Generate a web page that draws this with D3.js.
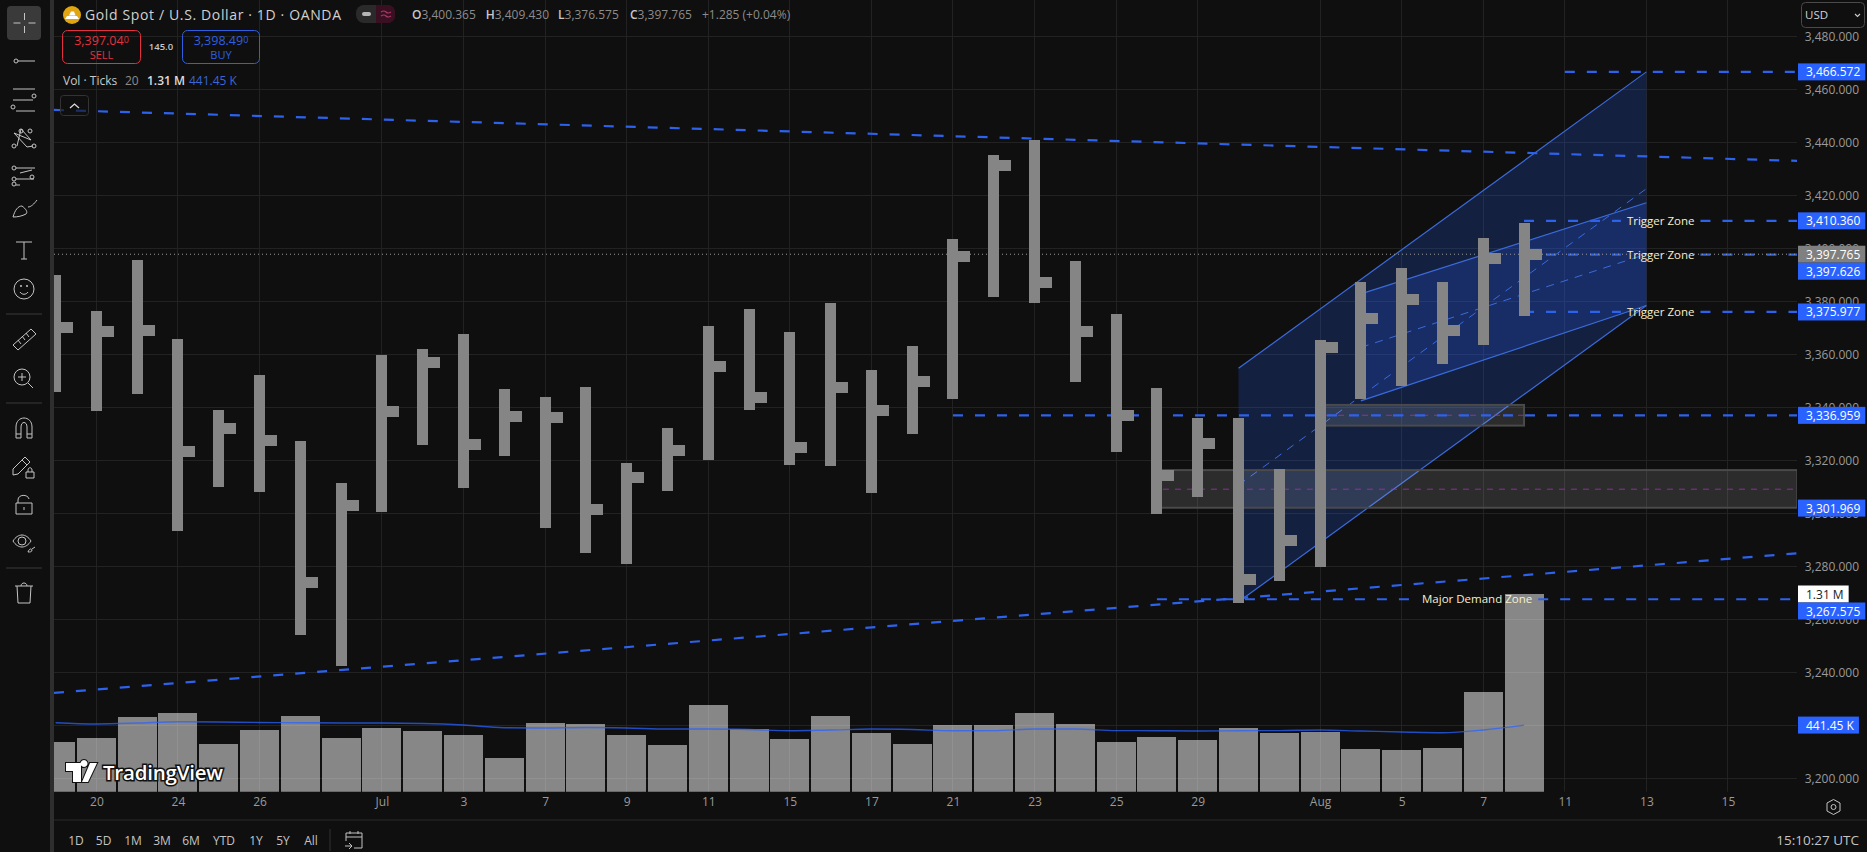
<!DOCTYPE html>
<html><head><meta charset="utf-8">
<script src="https://cdn.jsdelivr.net/npm/d3@7/dist/d3.min.js"></script>
<style>
html,body{margin:0;padding:0;background:#0f0f0f;overflow:hidden}
svg{display:block}
text{font-family:"Open Sans","Noto Sans",sans-serif}
</style></head><body>
<svg id="c" width="1867" height="852"></svg>
<script>
// ---------- data ----------
const highs=[3389.9,3376.4,3395.6,3365.8,3339.0,3352.2,3327.3,3311.4,3359.7,3362.0,3367.7,3346.9,3343.9,3347.7,3319.0,3332.2,3370.7,3377.1,3368.4,3379.4,3354.1,3363.1,3403.5,3435.2,3441.0,3395.2,3375.2,3347.3,3335.9,3335.9,3316.7,3365.4,3387.3,3392.6,3387.3,3403.9,3409.43];
const lows=[3345.8,3338.6,3345.0,3293.3,3309.9,3308.1,3254.1,3242.4,3300.5,3325.8,3309.6,3321.6,3294.5,3285.0,3280.9,3308.4,3320.1,3339.0,3318.2,3317.9,3307.7,3330.0,3343.1,3381.6,3379.4,3349.6,3323.1,3299.7,3306.1,3266.1,3274.4,3279.7,3343.1,3348.0,3356.3,3363.5,3374.4];
const closes=[3370.2,3368.7,3369.1,3323.4,3332.1,3327.5,3274.0,3303.0,3338.5,3357.0,3326.0,3336.6,3336.2,3301.5,3313.6,3323.8,3355.5,3343.8,3324.9,3347.5,3338.9,3349.8,3397.0,3431.3,3387.2,3368.7,3336.9,3314.3,3326.4,3275.1,3289.8,3362.6,3373.6,3380.7,3369.0,3396.2,3397.765];
const volumes=[329,356,495,522,316,409,502,356,422,402,376,223,455,449,376,309,575,415,349,502,389,316,442,442,522,449,329,362,343,422,389,396,283,276,290,661,1310];
const volumeMA=[457,449,455,464,462,459,457,455,455,452,442,424,422,425,422,415,415,412,404,409,415,412,404,405,415,415,405,404,402,404,405,409,402,396,391,409,441.45];
const priceTicks=[3200,3220,3240,3260,3280,3300,3320,3340,3360,3380,3400,3420,3440,3460,3480];
const timeTickIndex=[1,3,5,8,10,12,14,16,18,20,22,24,26,28,31,33,35,37,39,41];
const timeTickLabels=["20","24","26","Jul","3","7","9","11","15","17","21","23","25","29","Aug","5","7","11","13","15"];
const rangeButtons=["1D","5D","1M","3M","6M","YTD","1Y","5Y","All"];
const lastClose=3397.765;
// drawings, in [bar index, price]
const trendLines=[[[-0.04,3452.2],[42.7,3433.0]],[[-0.04,3232.2],[42.7,3284.9]]];
const levels=[
 {p:3466.572,from:37,text:null},
 {p:3410.360,from:36,text:"Trigger Zone"},
 {p:3397.626,from:36,text:"Trigger Zone"},
 {p:3375.977,from:36,text:"Trigger Zone"},
 {p:3336.959,from:22,text:null},
 {p:3267.575,from:27,text:"Major Demand Zone"}];
const levelEnd=42.7, trigMid=39.35, demandMid=34.85;
const outerChannel=[[29,3354.7],[39,3466.572],[39,3378.4],[29,3266.6]];
const innerChannel=[[32,3382.8],[39,3417.2],[39,3378.4],[32,3342.4]];
const zones=[{i0:31,i1:36,top:3340.9,bot:3333.1,mid:3337.0},{i0:27,i1:42.7,top:3316.3,bot:3302.1,mid:3309.1}];
const blueLabels=[3466.572,3410.360,3397.626,3375.977,3336.959,3301.969,3267.575];

// ---------- scales ----------
const svg=d3.select("#c");
const plotL=54, plotR=1797, paneB=791.7;
const x=d3.scaleLinear().domain([0,39]).range([55.6,1646.4]);
const y=d3.scaleLinear().domain([3200,3480]).range([778.3,36.3]);
const yv=d3.scaleLinear().domain([0,1310]).range([paneB,594]);
const blue="#2962ff", fg="#d4d4d4", dim="#9a9a9a", bar="#858585";
svg.append("defs").append("clipPath").attr("id","plot").append("rect").attr("x",plotL).attr("y",0).attr("width",plotR-plotL).attr("height",paneB);
const plot=svg.append("g").attr("clip-path","url(#plot)");
const fmt=d3.format(",.3f");

// grid
plot.append("g").selectAll("line").data(priceTicks).join("line").attr("x1",plotL).attr("x2",plotR).attr("y1",d=>y(d)).attr("y2",d=>y(d)).attr("stroke","#222222").attr("shape-rendering","crispEdges");
plot.append("g").selectAll("line").data(timeTickIndex).join("line").attr("x1",d=>x(d)).attr("x2",d=>x(d)).attr("y1",0).attr("y2",paneB).attr("stroke","#222222").attr("shape-rendering","crispEdges");

// volume
plot.append("g").selectAll("rect").data(volumes).join("rect").attr("x",(d,i)=>x(i)-19.5).attr("width",39).attr("y",d=>yv(d)).attr("height",d=>paneB-yv(d)).attr("fill","rgba(255,255,255,.5)").attr("shape-rendering","crispEdges");
plot.append("path").attr("d",d3.line().x((d,i)=>x(i)).y(d=>yv(d)).curve(d3.curveMonotoneX)(volumeMA)).attr("fill","none").attr("stroke",blue).attr("stroke-opacity",.75).attr("stroke-width",1.4);

// channels
const pt=d=>[x(d[0]),y(d[1])];
const mid=(a,b)=>[(a[0]+b[0])/2,(a[1]+b[1])/2];
[outerChannel,innerChannel].forEach(c=>{
  plot.append("path").attr("d",d3.line().x(d=>x(d[0])).y(d=>y(d[1]))(c)+"Z").attr("fill","rgba(41,98,255,.2)");
  [[c[0],c[1]],[c[3],c[2]]].forEach(s=>plot.append("path").attr("d",d3.line().x(d=>x(d[0])).y(d=>y(d[1]))(s)).attr("stroke","#3b6bdb").attr("stroke-width",1.2).attr("fill","none"));
  plot.append("path").attr("d",d3.line().x(d=>x(d[0])).y(d=>y(d[1]))([mid(c[0],c[3]),mid(c[1],c[2])])).attr("stroke","#3b6bdb").attr("stroke-width",1).attr("stroke-dasharray","8 7").attr("fill","none");
});

// zones
zones.forEach(z=>{
  plot.append("rect").attr("x",x(z.i0)).attr("width",x(z.i1)-x(z.i0)).attr("y",y(z.top)).attr("height",y(z.bot)-y(z.top)).attr("fill","rgba(255,255,255,.12)").attr("stroke","#4a4a4a").attr("stroke-width",2);
  plot.append("line").attr("x1",x(z.i0)+6).attr("x2",x(z.i1)).attr("y1",y(z.mid)).attr("y2",y(z.mid)).attr("stroke","#a035b0").attr("stroke-opacity",.8).attr("stroke-dasharray","6 6");
});

// trend lines
const dashLine=(g,x1,y1,x2,y2)=>g.append("line").attr("x1",x1).attr("y1",y1).attr("x2",x2).attr("y2",y2).attr("stroke","#2d62ec").attr("stroke-width",2.2).attr("stroke-dasharray","10 12");
trendLines.forEach(t=>{const a=pt(t[0]),b=pt(t[1]);dashLine(plot,a[0],a[1],b[0],b[1]);});

// level lines, broken around their captions
levels.forEach(l=>{
  const yy=y(l.p), x0=x(l.from), x1=x(levelEnd);
  if(!l.text){dashLine(plot,x0,yy,x1,yy);return;}
  const cx=x(l.text.startsWith("Major")?demandMid:trigMid);
  const t=plot.append("text").attr("x",cx).attr("y",yy+4).attr("text-anchor","middle").attr("font-size",11.5).attr("font-weight",500).attr("fill","#f8f0cc").text(l.text);
  const w=t.node().getComputedTextLength()/2+6;
  dashLine(plot,x0,yy,cx-w,yy);dashLine(plot,cx+w,yy,x1,yy);
});

// last price dotted
plot.append("line").attr("x1",plotL).attr("x2",plotR).attr("y1",y(lastClose)).attr("y2",y(lastClose)).attr("stroke","#9a9a9a").attr("stroke-dasharray","1 3");

// OHLC bars
const bars=plot.append("g").attr("fill",bar).attr("shape-rendering","crispEdges");
bars.selectAll("rect.w").data(highs).join("rect").attr("class","w").attr("x",(d,i)=>x(i)-5.5).attr("width",11).attr("y",d=>y(d)).attr("height",(d,i)=>y(lows[i])-y(d));
bars.selectAll("rect.c").data(closes).join("rect").attr("class","c").attr("x",(d,i)=>x(i)+5.5).attr("width",12).attr("y",d=>y(d)-5.5).attr("height",11);

// axes
const ax=svg.append("g").attr("transform",`translate(1859,0)`).call(d3.axisLeft(y).tickValues(priceTicks).tickSize(0).tickPadding(0).tickFormat(fmt));
ax.select(".domain").remove();
ax.selectAll("text").attr("fill",dim).attr("font-size",12).style("font-family",'"Open Sans"');
const at=svg.append("g").attr("transform",`translate(0,${paneB+6})`).call(d3.axisBottom(x).tickValues(timeTickIndex).tickSize(0).tickPadding(0).tickFormat((d,i)=>timeTickLabels[i]));
at.select(".domain").remove();
at.selectAll("text").attr("fill",dim).attr("font-size",12).style("font-family",'"Open Sans"');
svg.append("line").attr("x1",plotL).attr("x2",1867).attr("y1",820).attr("y2",820).attr("stroke","#2a2a2a");

// right labels, pushed down when they collide
const labs=[
 ...blueLabels.map(v=>({y:y(v),t:fmt(v),bg:blue,fg:"#fff"})),
 {y:y(lastClose),t:fmt(lastClose),bg:"#808080",fg:"#fff",first:1},
 {y:yv(1310),t:"1.31 M",bg:"#fff",fg:"#222",first:1},
 {y:yv(441.45),t:"441.45 K",bg:blue,fg:"#fff"}
].sort((a,b)=>a.y-b.y||(b.first||0)-(a.first||0));
labs.forEach((l,i)=>{ if(i&&l.y<labs[i-1].y+17) l.y=labs[i-1].y+17; });
labs.forEach(l=>{
  const g=svg.append("g");
  const r=g.append("rect").attr("x",1798).attr("y",l.y-8.5).attr("height",17).attr("fill",l.bg);
  const t=g.append("text").attr("x",1806).attr("y",l.y+4.5).attr("font-size",12).attr("font-weight",500).attr("fill",l.fg).text(l.t);
  r.attr("width",8+t.node().getComputedTextLength()+5);
});

// left toolbar
svg.append("rect").attr("x",0).attr("y",0).attr("width",50).attr("height",852).attr("fill","#0f0f0f");
svg.append("rect").attr("x",50).attr("y",0).attr("width",4).attr("height",852).attr("fill","#2e2e2e");
svg.append("rect").attr("x",7).attr("y",6).attr("width",34).attr("height",34).attr("rx",4).attr("fill","#3a3a3a");
const ic=svg.append("g").attr("fill","none").attr("stroke","#c4c4c4").attr("stroke-width",1);
const P=(cx,cy,d)=>ic.append("path").attr("transform",`translate(${cx},${cy})`).attr("d",d);
const C=(cx,cy,r)=>ic.append("circle").attr("cx",cx).attr("cy",cy).attr("r",r);
P(24.5,23,"M0-10V-3M0 3V10M-11 0H-4M4 0H11");
C(16,61,2);P(24,61,"M-6 0H11");
P(24,100,"M-11-11H11M-11 0H9M-8 11H11");C(34,96,2);C(13,107,2);
P(24,137,"M-7 9L-3-8L7 3L-10-4L3 10L9 9");C(14,146,2);C(21,131,2);C(30,131,2);C(34,146,2);
P(24,175,"M-8-7H11M-8 4H10M-8 10H-4M-4-2L8-5");C(14,168,2);C(14,179,2);C(14,184,2);C(32,177,2);
P(24,208,"M-11 9C-9 2-6-2-2-2C2 1 4 4 2 6C-2 8-6 9-11 9ZM4-1C7-1 10-4 13-8");
P(24,250,"M-8-8H8M0-8V9M-3 9H3");
C(24,289,10);P(24,289,"M-4 3C-2 6 2 6 4 3");C(21,286,.7);C(27,286,.7);
P(24,339,"M-11 6L7-10L12-5L-6 11ZM-6 1L-3 5M-2-3L1 1M2-6L5-2");
C(22,377,8);P(22,377,"M-4 0H4M0-4V4M6 6L11 11");
P(24,428,"M-8 10V-1C-8-13 8-13 8-1V10H3V-1C3-7-3-7-3-1V10ZM-8 6H-3M3 6H8");
P(20,465,"M-7 10L-7 4L5-8L10-3L-2 9ZM2-5L7 0");P(30,473,"M-4-1H4V5H-4ZM-2-1V-3C-2-6 2-6 2-3V-1");
P(24,505,"M-8-2H8V9H-8ZM-6-2V-5C-6-11 4-11 5-6M0 2V5");
P(22,541,"M-9 0C-4-8 4-8 9 0C4 8-4 8-9 0Z");C(22,541,4);P(31,550,"M-3 2C-2-1 0-2 1 0C1 2-1 2-3 2M1-1L4-3");
P(24,593,"M-9-7H9M-3-7C-3-11 3-11 3-7M-7-7L-6 10H6L7-7");
ic.append("g").selectAll("line").data([314,403,568]).join("line").attr("x1",6).attr("x2",42).attr("y1",d=>d).attr("y2",d=>d).attr("stroke","#3a3a3a");

// header
const hdr=svg.append("g");
hdr.append("circle").attr("cx",72).attr("cy",15).attr("r",9).attr("fill","#e0a50f");
hdr.append("path").attr("d","M65 19L67 16H77L79 19ZM69 15.5L71 11.5H74L75.5 15.5Z").attr("fill","#fff");
hdr.append("text").attr("x",85).attr("y",20).attr("font-size",14).attr("fill","#d1d1d1").attr("textLength",256).text("Gold Spot / U.S. Dollar · 1D · OANDA");
hdr.append("rect").attr("x",356).attr("y",5).attr("width",39).attr("height",18).attr("rx",8).attr("fill","#2a2a2a");
hdr.append("path").attr("d","M376 5H387Q395 5 395 13V15Q395 23 387 23H376Z").attr("fill","#3b0f22");
hdr.append("rect").attr("x",362).attr("y",12).attr("width",9).attr("height",4).attr("rx",2).attr("fill","#b5b5b5");
hdr.append("path").attr("d","M381 12Q384 10 386 12T391 12M381 16Q384 14 386 16T391 16").attr("fill","none").attr("stroke","#a83a62").attr("stroke-width",1.2);
const ohlc=hdr.append("text").attr("x",412).attr("y",19).attr("font-size",12).attr("fill","#8c8c8c");
[["O","3,400.365",412],["H","3,409.430",485.7],["L","3,376.575",558],["C","3,397.765",630]].forEach(d=>{
  ohlc.append("tspan").attr("x",d[2]).attr("fill","#c8c8c8").attr("font-weight",600).text(d[0]);
  ohlc.append("tspan").text(d[1]);
});
ohlc.append("tspan").attr("x",702).text("+1.285 (+0.04%)");

const box=(bx,w,col,v,lbl)=>{
  hdr.append("rect").attr("x",bx).attr("y",30.5).attr("width",w).attr("height",33).attr("rx",5).attr("fill","none").attr("stroke",col);
  const t=hdr.append("text").attr("x",bx+w/2).attr("y",45).attr("text-anchor","middle").attr("font-size",12.5).attr("font-weight",500).attr("fill",col);
  t.append("tspan").text(v);t.append("tspan").attr("font-size",9).attr("dy",-2).text("0");
  hdr.append("text").attr("x",bx+w/2).attr("y",59).attr("text-anchor","middle").attr("font-size",11).attr("fill",col).text(lbl);
};
box(62.5,78,"#e5303f","3,397.04","SELL");
box(182.5,77,"#2f5fe0","3,398.49","BUY");
hdr.append("text").attr("x",161).attr("y",50).attr("text-anchor","middle").attr("font-size",9.5).attr("font-weight",600).attr("fill","#c8c8c8").text("145.0");
const vt=hdr.append("text").attr("y",85).attr("font-size",12);
vt.append("tspan").attr("x",63).attr("fill","#c8c8c8").text("Vol · Ticks");
vt.append("tspan").attr("x",125).attr("fill","#8c8c8c").text("20");
vt.append("tspan").attr("x",147).attr("fill","#dcdcdc").attr("font-weight",600).text("1.31 M");
vt.append("tspan").attr("x",189).attr("fill","#3a66d8").text("441.45 K");
hdr.append("rect").attr("x",60.5).attr("y",95.5).attr("width",28).attr("height",20).attr("rx",3).attr("fill","rgba(15,15,15,.6)").attr("stroke","#333");
hdr.append("path").attr("d","M70 108L74.5 104L79 108").attr("fill","none").attr("stroke","#ddd").attr("stroke-width",1.3);

// USD
hdr.append("rect").attr("x",1801.5).attr("y",2.5).attr("width",63).attr("height",25).attr("rx",4).attr("fill","#0f0f0f").attr("stroke","#4a4a4a");
hdr.append("text").attr("x",1805).attr("y",19).attr("font-size",11.5).attr("fill","#d4d4d4").text("USD");
hdr.append("path").attr("d","M1855 14L1857.5 16.5L1860 14").attr("fill","none").attr("stroke","#ccc").attr("stroke-width",1.1);

// watermark
const wm=svg.append("g");
wm.append("path").attr("d","M66 763H81V782H73V771H66ZM84 767A3.5 3.5 0 1 1 84.01 767ZM90 763H97L88 782H82Z").attr("fill","#fff").attr("stroke","#111").attr("stroke-width",2).attr("paint-order","stroke");
wm.append("text").attr("x",103).attr("y",780).attr("font-size",20.5).attr("font-weight",600).attr("fill","#fff").attr("stroke","#111").attr("stroke-width",3).attr("paint-order","stroke").attr("textLength",120).text("TradingView");

// bottom bar
const btnPos=[76,103.6,133,162,191,224,256,283,311];
svg.append("g").selectAll("text").data(rangeButtons).join("text").attr("x",(d,i)=>btnPos[i]).attr("y",844.5).attr("text-anchor","middle").attr("font-size",12).attr("fill","#c4c4c4").text(d=>d);
svg.append("line").attr("x1",330).attr("x2",330).attr("y1",829).attr("y2",851).attr("stroke","#333");
const bi=svg.append("g").attr("fill","none").attr("stroke","#c4c4c4");
bi.append("path").attr("d","M346 841V833H362V848H354M346 837H362M350 831V834M358 831V834M345 846H352M349 843L352 846L349 849");
bi.append("path").attr("d","M1833.5 799.5L1840 803V811L1833.5 814.5L1827 811V803Z");
bi.append("circle").attr("cx",1833.5).attr("cy",807).attr("r",2.5);
svg.append("text").attr("x",1859).attr("y",844.5).attr("text-anchor","end").attr("font-size",13.5).attr("fill","#c4c4c4").text("15:10:27 UTC");
</script>
</body></html>
